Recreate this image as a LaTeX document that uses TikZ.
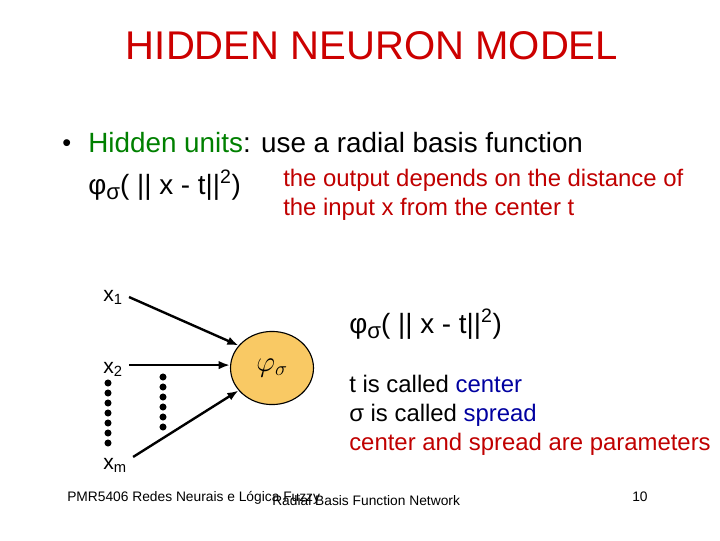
\documentclass[tikz,border=0pt]{standalone}
\usepackage{fontspec}
\setmainfont{Liberation Sans}
\usepackage{xcolor}
\usetikzlibrary{arrows.meta,shapes.geometric}
\definecolor{titlered}{RGB}{204,0,0}
\definecolor{termgreen}{RGB}{0,128,0}
\definecolor{termblue}{RGB}{0,0,160}
\definecolor{notered}{RGB}{192,0,0}
\definecolor{neuronfill}{RGB}{249,201,100}
\newcommand{\phisig}{φ\raisebox{-0.4ex}{\scalebox{0.8}{σ}}}
\newcommand{\normsq}{\phisig( || x - t||\textsuperscript{2})}

\begin{document}
\begin{tikzpicture}[x=0.025cm, y=-0.025cm,
  txt/.style={anchor=base west, inner sep=0pt, font=\fontsize{17}{20}\selectfont},
  big/.style={txt, font=\fontsize{19.8}{24}\selectfont},
  inp/.style={anchor=base west, inner sep=0pt, font=\fontsize{15}{18}\selectfont},
  foot/.style={txt, font=\fontsize{9.8}{12}\selectfont},
  neuron/.style={draw, thick, ellipse, fill=neuronfill, minimum width=59pt, minimum height=52pt, inner sep=0pt},
  arr/.style={-{Latex[length=8pt,width=6pt]}, line width=1.7pt},
  dot/.style={circle, fill=black, inner sep=0pt, minimum size=5pt}
]
  \useasboundingbox (0,0) rectangle (720,540);
  \node[font=\fontsize{28.5}{34}\selectfont, text=titlered] (title) at (372,46) {HIDDEN NEURON MODEL};
  \node[big, font=\fontsize{18}{24}\selectfont] (bul) at (62,151) {•};
  \node[big] (hid) at (88,152) {\textcolor{termgreen}{Hidden units}: use a radial basis function};
  \node[big] (f1) at (88,194) {\normsq};
  \node[txt, text=notered] (out1) at (283,186) {the output depends on the distance of};
  \node[txt, text=notered] (out2) at (283,215) {the input x from the center t};
  % inputs and neuron
  \node[inp] (x1) at (103,301) {x\textsubscript{1}};
  \node[inp] (x2) at (103,373) {x\textsubscript{2}};
  \node[inp] (xm) at (103,469) {x\textsubscript{m}};
  \node[neuron] (n) at (272,368) {\fontsize{22}{24}\selectfont$\varphi_\sigma$};
  \draw[arr] (x1.east) ++(6,0) coordinate (a1) (a1) -- (n.146);
  \draw[arr] (x2.east) ++(6,-4) coordinate (a2) (a2) -- (n.west |- a2);
  \draw[arr] (xm.east) ++(6,-8) coordinate (am) (am) -- (n.214);
  \foreach \k in {0,...,6} \node[dot] (da\k) at (108,383+10*\k) {};
  \foreach \k in {0,...,5} \node[dot] (db\k) at (163,377+10*\k) {};
  % right text
  \node[big] (f2) at (349,333) {\normsq};
  \node[txt] (c1) at (349,392) {t is called \textcolor{termblue}{center}};
  \node[txt] (c2) at (349,421) {σ is called \textcolor{termblue}{spread}};
  \node[txt, text=notered] (c3) at (349,450) {center and spread are parameters};
  % footer
  \node[foot] (ft1) at (67,501) {PMR5406 Redes Neurais e Lógica Fuzzy};
  \node[foot] (ft2) at (272,505) {Radial Basis Function Network};
  \node[foot] (ft3) at (632,501) {10};
\end{tikzpicture}
\end{document}
